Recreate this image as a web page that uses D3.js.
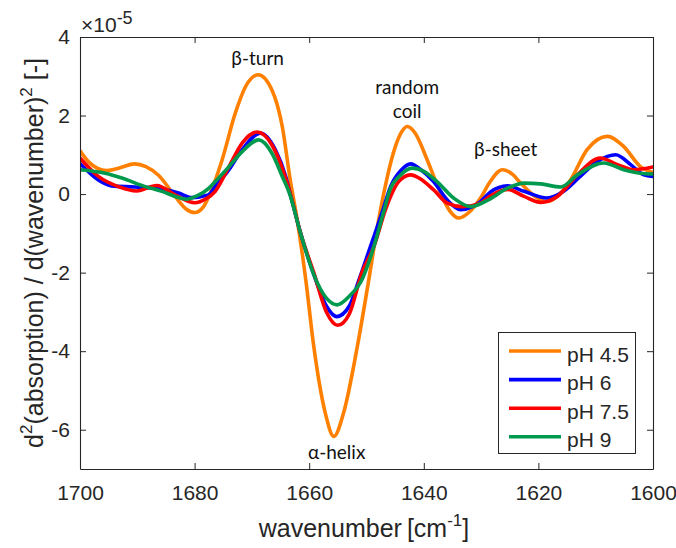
<!DOCTYPE html>
<html><head><meta charset="utf-8">
<script src="https://cdn.jsdelivr.net/npm/d3@7"></script>
<style>body{margin:0;background:#fff} svg{display:block}</style>
</head><body>
<svg id="chart" width="676" height="548"></svg>
<script>
// ---------- data ----------
const xTicks = [1700, 1680, 1660, 1640, 1620, 1600];
const yTicks = [-6, -4, -2, 0, 2, 4];
const seriesNames = ["pH 4.5", "pH 6", "pH 7.5", "pH 9"];
const seriesColors = ["#FF8000", "#0000FF", "#FF0000", "#009A4E"];

const wn45 = [1700,1698.5,1697,1695.3,1693,1690.5,1688.5,1686.3,1683.4,1681.5,1680,1678.5,1677,1675.2,1672.9,1671.1,1668.9,1666.5,1664.7,1663.3,1662.1,1660.6,1659.2,1657.2,1655.7,1654,1651.6,1649.6,1648,1646.5,1645.5,1644,1642.9,1641.5,1639.4,1637.1,1635.5,1633.9,1632,1630.1,1628.4,1626.3,1624.5,1623.1,1620.2,1618.5,1616.7,1614.4,1611.5,1608,1605.1,1602.2,1600];
const v45  = [1.10,0.82,0.66,0.60,0.67,0.77,0.70,0.48,-0.06,-0.38,-0.47,-0.33,0.12,0.87,2.06,2.74,3.04,2.65,1.72,0.35,-0.65,-2.18,-3.88,-5.57,-6.17,-5.57,-3.88,-2.18,-0.75,0.35,0.95,1.55,1.72,1.55,0.87,0.03,-0.42,-0.61,-0.45,-0.10,0.32,0.62,0.50,0.28,-0.10,-0.19,-0.06,0.36,1.13,1.47,1.21,0.70,0.55];

const wn6 = [1700,1696.8,1694.5,1690.4,1685.7,1682.8,1680.5,1677.6,1676.4,1674,1671.7,1668.5,1665.9,1664.1,1663.3,1661.5,1659.3,1657,1655.2,1653,1651.3,1649.3,1647.3,1645.8,1644,1642.3,1640.5,1638.3,1635.9,1633.6,1631.5,1630.1,1628.4,1625.4,1622.5,1618.5,1615.6,1612.7,1609.7,1606.5,1603.9,1601.6,1600];
const v6  = [0.78,0.36,0.21,0.18,0.13,0.03,-0.09,-0.02,0.19,0.62,1.13,1.55,1.13,0.45,0.0,-1.0,-2.0,-2.85,-3.12,-2.85,-2.18,-1.33,-0.48,0.19,0.60,0.77,0.62,0.32,-0.15,-0.40,-0.32,-0.19,0.05,0.21,0.07,-0.10,0.07,0.45,0.83,1.00,0.75,0.49,0.45];

const wn75 = [1700,1696.8,1693.3,1690.1,1686.6,1683.4,1680,1678,1676.4,1674,1671.7,1669.1,1666.5,1664.4,1663.3,1661.5,1659.2,1657,1655,1653,1650.8,1648.7,1646.7,1645.8,1644.5,1642.3,1640.5,1638.3,1635.9,1633.3,1630.1,1628.4,1625.4,1622.5,1619.6,1616.7,1613.2,1609.2,1606.2,1603.4,1600];
const v75  = [0.92,0.45,0.19,0.08,0.22,-0.02,-0.22,-0.12,0.07,0.70,1.30,1.58,1.25,0.53,0.0,-1.0,-2.0,-3.0,-3.34,-3.05,-2.0,-1.33,-0.40,-0.06,0.30,0.49,0.38,0.11,-0.23,-0.32,-0.23,-0.05,0.12,-0.06,-0.21,-0.06,0.49,0.92,0.75,0.62,0.69];

const wn9 = [1700,1695.6,1692.7,1688.6,1685.7,1683,1681.5,1679.5,1677.6,1676.4,1674,1671.7,1668.8,1666.5,1664.7,1663.4,1661.5,1659.2,1657,1655.1,1653,1650.8,1648.7,1647,1645.8,1644.3,1642,1640,1637.7,1634.8,1631.8,1628.4,1625.4,1622.5,1619.6,1616.1,1613.2,1608.6,1605.1,1602.2,1600];
const v9  = [0.62,0.53,0.41,0.19,0.07,-0.08,-0.13,-0.04,0.14,0.32,0.70,1.08,1.38,1.04,0.45,0.0,-1.0,-2.05,-2.65,-2.82,-2.6,-2.18,-1.33,-0.45,0.15,0.45,0.66,0.58,0.32,-0.10,-0.32,-0.12,0.15,0.28,0.26,0.18,0.49,0.79,0.62,0.53,0.51];

const annoText = ["β-turn", "random", "coil", "β-sheet", "α-helix"];
const annoWn   = [1669.0, 1642.9, 1642.9, 1625.7, 1655.2];
const annoV    = [3.29, 2.54, 1.93, 0.98, -6.74];

// ---------- layout ----------
const L = 80, R = 653, T = 37, B = 469;
const svg = d3.select("#chart");
const x = d3.scaleLinear().domain([1700, 1600]).range([L, R]);
const y = d3.scaleLinear().domain([-7, 4]).range([B, T]);
const axisColor = "#262626";
const tickFont = "'Liberation Sans', Arial, sans-serif";

const series = [[wn45, v45], [wn6, v6], [wn75, v75], [wn9, v9]].map((d, i) => ({
  name: seriesNames[i], color: seriesColors[i],
  pts: d[0].map((w, j) => ({w, v: d[1][j]}))
}));

svg.append("defs").append("clipPath").attr("id", "clip")
  .append("rect").attr("x", L).attr("y", T).attr("width", R - L).attr("height", B - T);

const line = d3.line().x(d => x(d.w)).y(d => y(d.v)).curve(d3.curveMonotoneX);
const g = svg.append("g").attr("clip-path", "url(#clip)");
series.forEach(s => {
  g.append("path").attr("d", line(s.pts)).attr("fill", "none")
    .attr("stroke", s.color).attr("stroke-width", 3.6)
    .attr("stroke-linejoin", "round").attr("stroke-linecap", "round");
});

// axes
const fmt = d => String(d);
function style(sel) {
  sel.selectAll(".domain").attr("stroke", axisColor).attr("stroke-width", 1.1);
  sel.selectAll(".tick line").attr("stroke", axisColor);
  sel.selectAll(".tick text").attr("fill", axisColor)
    .style("font-family", tickFont).style("font-size", "21px");
}
svg.append("g").attr("transform", `translate(0,${B})`)
  .call(d3.axisBottom(x).tickValues(xTicks).tickFormat(fmt).tickSizeInner(-6).tickSizeOuter(0).tickPadding(16))
  .call(style);
svg.append("g").attr("transform", `translate(0,${T})`)
  .call(d3.axisTop(x).tickValues(xTicks).tickFormat("").tickSizeInner(-6).tickSizeOuter(0))
  .call(style);
svg.append("g").attr("transform", `translate(${L},0)`)
  .call(d3.axisLeft(y).tickValues(yTicks).tickFormat(fmt).tickSizeInner(-6).tickSizeOuter(0).tickPadding(10))
  .call(style);
svg.append("g").attr("transform", `translate(${R},0)`)
  .call(d3.axisRight(y).tickValues(yTicks).tickFormat("").tickSizeInner(-6).tickSizeOuter(0))
  .call(style);

// exponent label
const ex = svg.append("text").attr("x", L + 1).attr("y", 32)
  .style("font-family", tickFont).style("font-size", "21px").attr("fill", axisColor);
ex.append("tspan").text("×10");
ex.append("tspan").attr("dy", -8).style("font-size", "18px").text("-5");

// axis labels
const xl = svg.append("text").attr("x", 364).attr("y", 537).attr("text-anchor", "middle")
  .style("font-family", tickFont).style("font-size", "25px").attr("fill", axisColor);
xl.append("tspan").text("wavenumber\u2009[cm");
xl.append("tspan").attr("dy", -11).style("font-size", "17px").text("-1");
xl.append("tspan").attr("dy", 11).text("]");

const yl = svg.append("text").attr("transform", `translate(43,${(T + B) / 2}) rotate(-90)`)
  .attr("text-anchor", "middle")
  .style("font-family", tickFont).style("font-size", "25px").attr("fill", axisColor);
yl.append("tspan").text("d");
yl.append("tspan").attr("dy", -11).style("font-size", "17px").text("2");
yl.append("tspan").attr("dy", 11).text("(absorption) / d(wavenumber)");
yl.append("tspan").attr("dy", -11).style("font-size", "17px").text("2");
yl.append("tspan").attr("dy", 11).text(" [-]");

// annotations
annoText.forEach((t, i) => {
  svg.append("text").attr("x", x(annoWn[i])).attr("y", y(annoV[i]))
    .attr("text-anchor", "middle")
    .style("font-family", "Lato, 'Open Sans', sans-serif").style("font-size", "19px")
    .attr("fill", "#111").text(t);
});

// legend
const lg = svg.append("g");
lg.append("rect").attr("x", 498.5).attr("y", 332.5).attr("width", 137).attr("height", 121)
  .attr("fill", "#fff").attr("stroke", axisColor).attr("stroke-width", 1);
series.forEach((s, i) => {
  const ry = 351 + i * 28.6;
  lg.append("line").attr("x1", 509).attr("x2", 561).attr("y1", ry).attr("y2", ry)
    .attr("stroke", s.color).attr("stroke-width", 3.6);
  lg.append("text").attr("x", 567).attr("y", ry + 10.5)
    .style("font-family", tickFont).style("font-size", "21px").attr("fill", axisColor)
    .text(s.name);
});
</script>
</body></html>
